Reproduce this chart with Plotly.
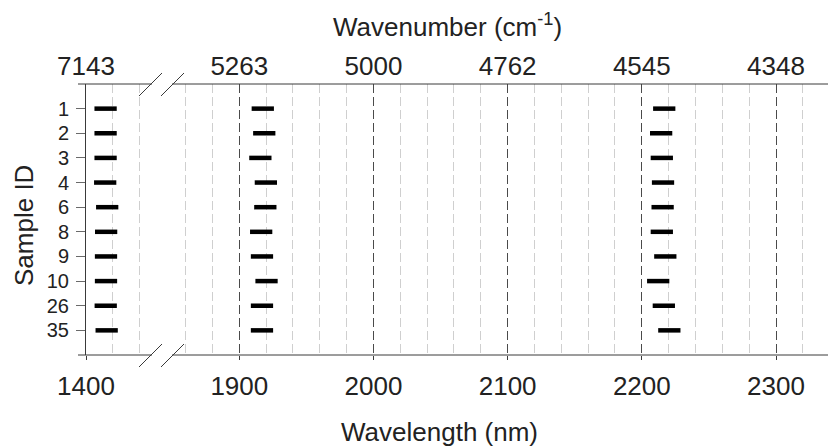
import plotly.graph_objects as go

# ---------------- data ----------------
sample_ids = ["1", "2", "3", "4", "6", "8", "9", "10", "26", "35"]
band_1415 = [1414.6, 1414.6, 1414.6, 1414.3, 1415.8, 1415.0, 1414.9, 1414.9, 1414.7, 1415.4]
band_1918 = [1917.5, 1918.6, 1915.7, 1919.8, 1919.4, 1916.3, 1916.9, 1920.3, 1916.9, 1916.9]
band_2215 = [2216.7, 2214.4, 2214.9, 2215.8, 2215.5, 2214.9, 2217.5, 2212.2, 2216.4, 2220.5]
band_width_nm = 16.6

left_wl_ticks = [1400]
left_wn_labels = ["7143"]
right_wl_ticks = [1900, 2000, 2100, 2200, 2300]
right_wn_labels = ["5263", "5000", "4762", "4545", "4348"]

# ---------------- layout helpers ----------------
W, H = 836, 447
OFF = 8  # page body margin in the browser
def px(x):
    return (x - OFF) / W
def py(y):
    return 1 - (y - OFF) / H

FONT = "Liberation Sans, Arial, sans-serif"
INK = "#222222"
LINE = "#3a3a3a"

rows = list(range(1, len(sample_ids) + 1))

def segments(centers):
    xs, ys = [], []
    for r, c in zip(rows, centers):
        xs += [c - band_width_nm / 2, c + band_width_nm / 2, None]
        ys += [r, r, None]
    return xs, ys

fig = go.Figure()

x1, y1 = segments(band_1415)
fig.add_trace(go.Scatter(x=x1, y=y1, mode="lines", xaxis="x", yaxis="y",
                         line=dict(color="black", width=4.5), hoverinfo="skip",
                         showlegend=False))
xa, ya = segments(band_1918)
xb, yb = segments(band_2215)
fig.add_trace(go.Scatter(x=xa + xb, y=ya + yb, mode="lines", xaxis="x2", yaxis="y",
                         line=dict(color="black", width=4.5), hoverinfo="skip",
                         showlegend=False))
# invisible traces to materialise the top (wavenumber) axes
fig.add_trace(go.Scatter(x=[left_wl_ticks[0]], y=[1], xaxis="x3", yaxis="y",
                         mode="markers", marker=dict(opacity=0), hoverinfo="skip",
                         showlegend=False))
fig.add_trace(go.Scatter(x=[right_wl_ticks[0]], y=[1], xaxis="x4", yaxis="y",
                         mode="markers", marker=dict(opacity=0), hoverinfo="skip",
                         showlegend=False))

PXNM = (776 - 239.3) / 400.0
left_range = [1400, 1400 + (152 - 86) / PXNM]
right_range = [1900 - (239.3 - 172) / PXNM, 2300 + (836 - 776) / PXNM]
dom_left = [px(86), px(152)]
dom_right = [px(172), px(836)]

minor_grid = dict(dtick=20, tick0=1400, showgrid=True, gridcolor="#cfcfcf",
                  griddash="9px,4px", gridwidth=1, ticks="")

common_bottom = dict(anchor="y", side="bottom", showline=False, zeroline=False,
                     automargin=False,
                     ticks="outside", ticklen=4, tickwidth=1, tickcolor=LINE,
                     tickfont=dict(family=FONT, size=26, color=INK),
                     showgrid=True, gridcolor="#4a4a4a", griddash="9px,4px",
                     gridwidth=1, minor=minor_grid, ticklabelstandoff=4)

common_top = dict(side="top", anchor="y", ticks="", showgrid=False, showline=False,
                  zeroline=False, automargin=False,
                  tickfont=dict(family=FONT, size=26, color=INK), ticklabelstandoff=3)

fig.update_layout(
    width=W, height=H,
    margin=dict(l=0, r=0, t=0, b=0, autoexpand=False),
    paper_bgcolor="white", plot_bgcolor="white",
    xaxis=dict(domain=dom_left, range=left_range, tickmode="array",
               tickvals=left_wl_ticks, ticktext=[str(v) for v in left_wl_ticks],
               **common_bottom),
    xaxis2=dict(domain=dom_right, range=right_range, tickmode="array",
                tickvals=right_wl_ticks, ticktext=[str(v) for v in right_wl_ticks],
                **common_bottom),
    xaxis3=dict(overlaying="x", range=left_range, tickmode="array",
                tickvals=left_wl_ticks, ticktext=left_wn_labels, **common_top),
    xaxis4=dict(overlaying="x2", range=right_range, tickmode="array",
                tickvals=right_wl_ticks, ticktext=right_wn_labels, **common_top),
    yaxis=dict(domain=[py(355), py(84)], range=[len(sample_ids) + 1, 0],
               tickmode="array", tickvals=rows, ticktext=sample_ids, automargin=False,
               showgrid=False, zeroline=False, showline=True, linecolor=LINE,
               linewidth=1, ticks="outside", ticklen=9, tickcolor="#6a6a6a",
               tickfont=dict(family=FONT, size=20, color=INK), ticklabelstandoff=3),
    annotations=[
        dict(text="Wavelength (nm)", x=px(439), y=py(432), xref="paper", yref="paper",
             showarrow=False, xanchor="center", yanchor="middle",
             font=dict(family=FONT, size=26, color=INK)),
        dict(text="Wavenumber (cm<sup>-1</sup>)", x=px(447.5), y=py(25), xref="paper",
             yref="paper", showarrow=False, xanchor="center", yanchor="middle",
             font=dict(family=FONT, size=26, color=INK)),
        dict(text="Sample ID", x=px(24), y=py(226), xref="paper", yref="paper",
             showarrow=False, xanchor="center", yanchor="middle", textangle=-90,
             font=dict(family=FONT, size=26, color=INK)),
    ],
)

# axis lines with the break, and break marks
shapes = []
for yy in (84, 355):
    shapes.append(dict(type="line", xref="paper", yref="paper",
                       x0=px(78), x1=px(152), y0=py(yy), y1=py(yy),
                       line=dict(color=LINE, width=1)))
    shapes.append(dict(type="line", xref="paper", yref="paper",
                       x0=px(172), x1=px(836), y0=py(yy), y1=py(yy),
                       line=dict(color=LINE, width=1)))
    for xs in (139, 161):
        shapes.append(dict(type="line", xref="paper", yref="paper",
                           x0=px(xs), x1=px(xs + 23), y0=py(yy + 12), y1=py(yy - 11),
                           line=dict(color=LINE, width=1)))
fig.update_layout(shapes=shapes)

fig.write_html("out.html")
